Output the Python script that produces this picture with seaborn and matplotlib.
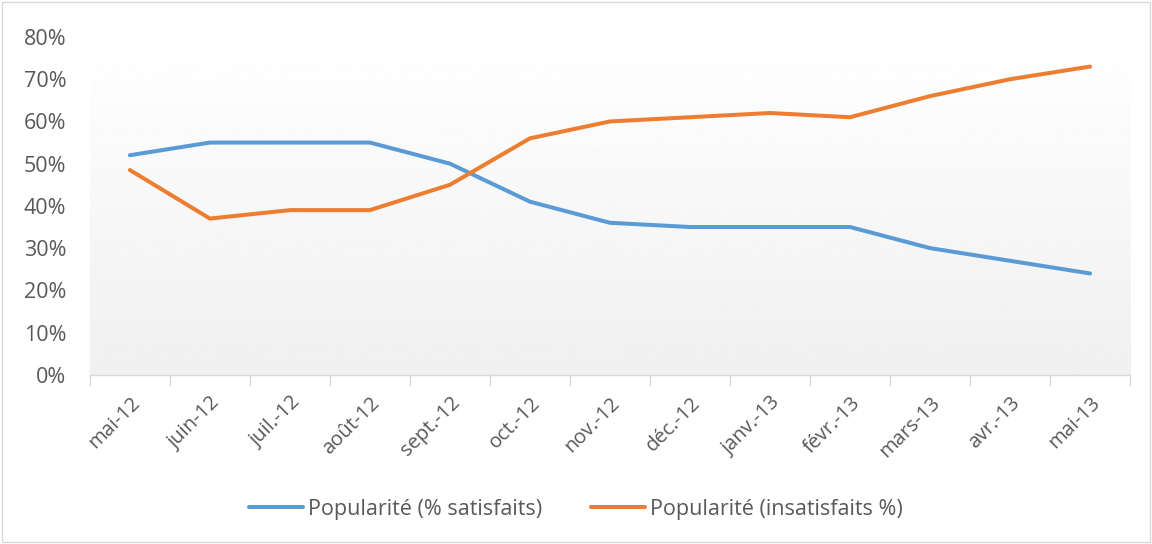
import numpy as np
import pandas as pd
import seaborn as sns
import matplotlib.pyplot as plt
from matplotlib.ticker import FixedLocator, PercentFormatter

months = ['mai-12', 'juin-12', 'juil.-12', 'août-12', 'sept.-12', 'oct.-12', 'nov.-12',
          'déc.-12', 'janv.-13', 'févr.-13', 'mars-13', 'avr.-13', 'mai-13']
satisfaits = [52, 55, 55, 55, 50, 41, 36, 35, 35, 35, 30, 27, 24]
insatisfaits = [48.5, 37, 39, 39, 45, 56, 60, 61, 62, 61, 66, 70, 73]
series_names = ['Popularité (% satisfaits)', 'Popularité (insatisfaits %)']
colors = ['#5B9BD5', '#ED7D31']

df = pd.DataFrame({
    'idx': list(range(len(months))) * 2,
    'value': satisfaits + insatisfaits,
    'serie': [series_names[0]] * len(months) + [series_names[1]] * len(months),
})

sns.set_style('white')
plt.rcParams['font.family'] = ['Open Sans', 'DejaVu Sans']

fig = plt.figure(figsize=(11.52, 5.44), dpi=100)
ax = fig.add_axes([0.078, 0.311, 0.903, 0.621])

# gradient background like the Excel plot area
grad = np.linspace(1.0, 0.94, 256).reshape(-1, 1)
ax.imshow(grad, extent=[0, 1, 0, 1], transform=ax.transAxes, aspect='auto',
          cmap='gray', vmin=0, vmax=1, zorder=0)

sns.lineplot(data=df, x='idx', y='value', hue='serie', palette=colors,
             linewidth=2.9, ax=ax, sort=False, legend=True)
for ln in ax.get_lines():
    ln.set_solid_capstyle('round')

ax.set_xlim(-0.5, len(months) - 0.5)
ax.set_ylim(0, 80)
ax.set_yticks(range(0, 81, 10))
ax.yaxis.set_major_formatter(PercentFormatter(decimals=0))
ax.set_xticks(range(len(months)))
ax.set_xticklabels(months, rotation=45, ha='right', rotation_mode='anchor')
ax.xaxis.set_minor_locator(FixedLocator(np.arange(-0.5, len(months), 1)))
ax.tick_params(axis='x', which='major', length=0, pad=13, labelsize=14.5, labelcolor='#595959')
ax.tick_params(axis='x', which='minor', length=8, width=1, color='#D9D9D9', bottom=True)
ax.tick_params(axis='y', length=0, pad=17, labelsize=15.5, labelcolor='#595959')
ax.set_xlabel('')
ax.set_ylabel('')
for s in ['top', 'right', 'left']:
    ax.spines[s].set_visible(False)
ax.spines['bottom'].set_color('#D9D9D9')
ax.spines['bottom'].set_linewidth(1)

handles, labels = ax.get_legend_handles_labels()
ax.legend(handles, labels, loc='center', bbox_to_anchor=(0.5, 0.064),
          bbox_transform=fig.transFigure, ncol=2, frameon=False, fontsize=15.5,
          handlelength=2.5, handletextpad=0.22, columnspacing=2.3, labelcolor='#595959')

# outer chart border
fig.patches.append(plt.Rectangle((0.002, 0.003), 0.996, 0.994, transform=fig.transFigure,
                                 fill=False, edgecolor='#D9D9D9', linewidth=1))

fig.savefig('out.png', dpi=100)
